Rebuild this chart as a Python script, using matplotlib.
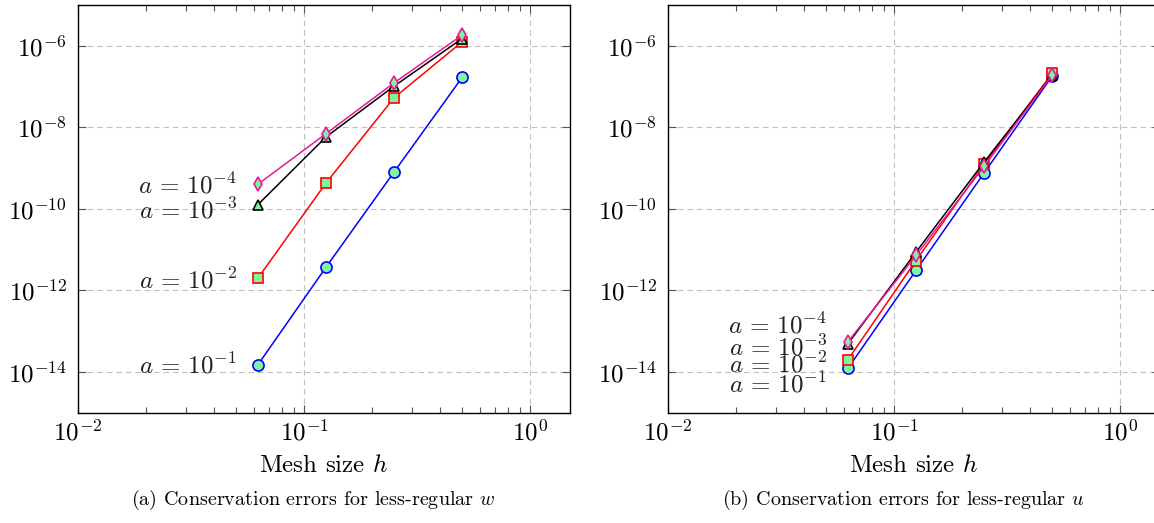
import matplotlib
matplotlib.use('Agg')
from matplotlib import pyplot as plt
from matplotlib.ticker import LogLocator, NullFormatter, NullLocator

plt.rcParams['font.family'] = 'serif'
plt.rcParams['font.serif'] = ['cmr10']
plt.rcParams['mathtext.fontset'] = 'cm'
plt.rcParams['axes.formatter.use_mathtext'] = True

# mesh sizes
h = [1 / 16, 1 / 8, 1 / 4, 1 / 2]
a_labels = [r'$a\,=\,10^{-1}$', r'$a\,=\,10^{-2}$', r'$a\,=\,10^{-3}$', r'$a\,=\,10^{-4}$']

# (a) conservation errors, less-regular w
w_a1 = [1.5e-14, 3.7e-12, 8.0e-10, 1.67e-7]
w_a2 = [2.0e-12, 4.3e-10, 5.3e-8, 1.25e-6]
w_a3 = [1.27e-10, 5.8e-9, 1.02e-7, 1.5e-6]
w_a4 = [4.0e-10, 7.0e-9, 1.23e-7, 1.83e-6]

# (b) conservation errors, less-regular u
u_a1 = [1.23e-14, 3.1e-12, 7.6e-10, 1.8e-7]
u_a2 = [2.0e-14, 5.4e-12, 1.24e-9, 2.1e-7]
u_a3 = [4.9e-14, 8.7e-12, 1.4e-9, 1.9e-7]
u_a4 = [5.5e-14, 7.2e-12, 1.1e-9, 1.9e-7]

# baselines of the "a = ..." notes
note_y_w = [9.1e-15, 1.1e-12, 5.8e-11, 2.4e-10]
note_y_u = [3.1e-15, 9.6e-15, 2.5e-14, 8.7e-14]

fill = '#80f5a0'
styles = [
    dict(color='blue', marker='o', markersize=8),
    dict(color='red', marker='s', markersize=7.5),
    dict(color='black', marker='^', markersize=7),
    dict(color='#e8189a', marker='d', markersize=7.5),
]


def draw(ax, series, note_y):
    for ys, st in zip(series, styles):
        ax.plot(h, ys, linewidth=1.1, markerfacecolor=fill,
                markeredgewidth=1.2, markeredgecolor=st['color'], **st)
    for lab, y in zip(a_labels, note_y):
        ax.annotate(lab, xy=(h[0], y), xytext=(-21, 0), textcoords='offset pixels',
                    ha='right', va='baseline', fontsize=18, color='#222222')
    ax.set_xscale('log')
    ax.set_yscale('log')
    ax.set_xlim(1e-2, 1.5)
    ax.set_ylim(1e-15, 1e-5)
    ax.set_yticks([1e-14, 1e-12, 1e-10, 1e-8, 1e-6])
    ax.yaxis.set_minor_locator(NullLocator())
    ax.xaxis.set_minor_locator(LogLocator(base=10, subs=range(2, 10), numticks=20))
    ax.xaxis.set_minor_formatter(NullFormatter())
    ax.tick_params(which='both', direction='in', top=True, right=True,
                   labelsize=18, color='#555555')
    ax.tick_params(which='major', length=6, width=0.8)
    ax.tick_params(which='minor', length=4, width=0.8)
    ax.tick_params(axis='x', pad=5)
    ax.tick_params(axis='y', pad=8)
    ax.grid(True, which='major', linestyle=(0, (5, 3.5)), color='#c0c0c0', linewidth=0.8)
    ax.set_axisbelow(True)
    for sp in ax.spines.values():
        sp.set_linewidth(1.0)
    ax.set_xlabel(r'Mesh size $h$', fontsize=18, labelpad=7)


fig = plt.figure(figsize=(11.54, 5.23), dpi=100)
ax1 = fig.add_axes([0.0676, 0.2109, 0.4263, 0.7795])
ax2 = fig.add_axes([0.5789, 0.2109, 0.4263, 0.7795])

draw(ax1, [w_a1, w_a2, w_a3, w_a4], note_y_w)
draw(ax2, [u_a1, u_a2, u_a3, u_a4], note_y_u)

fig.text(313 / 1154, 0.034, r'(a) Conservation errors for less-regular $w$',
         ha='center', va='baseline', fontsize=14.5)
fig.text(903 / 1154, 0.034, r'(b) Conservation errors for less-regular $u$',
         ha='center', va='baseline', fontsize=14.5)

fig.savefig('out.png', dpi=100)
